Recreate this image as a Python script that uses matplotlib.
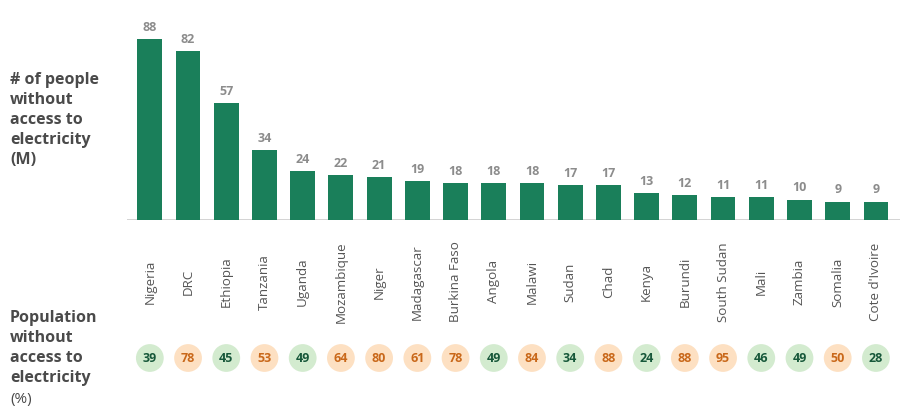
import matplotlib.pyplot as plt
from matplotlib.transforms import blended_transform_factory

paises = ["Nigeria", "DRC", "Ethiopia", "Tanzania", "Uganda", "Mozambique", "Niger",
          "Madagascar", "Burkina Faso", "Angola", "Malawi", "Sudan", "Chad", "Kenya",
          "Burundi", "South Sudan", "Mali", "Zambia", "Somalia", "Cote d'Ivoire"]
personas_m = [88, 82, 57, 34, 24, 22, 21, 19, 18, 18, 18, 17, 17, 13, 12, 11, 11, 10, 9, 9]
poblacion_pct = [39, 78, 45, 53, 49, 64, 80, 61, 78, 49, 84, 34, 88, 24, 88, 95, 46, 49, 50, 28]

VERDE = "#1a7f5a"
GRIS_TXT = "#4a4a4a"

plt.rcParams['font.family'] = ['Open Sans', 'DejaVu Sans']

fig = plt.figure(figsize=(9, 4.2), dpi=100)

# barras
ax = fig.add_axes([0.141, 0.476, 0.859, 0.524])
x = list(range(len(paises)))
bars = ax.bar(x, personas_m, width=0.65, color=VERDE)
for b, v in zip(bars, personas_m):
    ax.text(b.get_x() + b.get_width() / 2, v + 2.5, str(v), ha='center', va='bottom',
            fontsize=9, fontweight='bold', color='#8c8c8c')
ax.set_xlim(-0.6, 19.63)
ax.set_ylim(0, 107)
ax.axhline(0, color='#cccccc', lw=1.2, zorder=0)
ax.axis('off')

# nombres de paises
tr = blended_transform_factory(ax.transData, fig.transFigure)
for xi, p in zip(x, paises):
    ax.text(xi, 0.329, p, transform=tr, rotation=90, ha='center', va='center',
            fontsize=9.6, color='#555555', clip_on=False)

# circulos con porcentajes
ax2 = fig.add_axes([0.141, 0.0, 0.859, 0.3])
ax2.set_xlim(-0.6, 19.63)
ax2.set_ylim(0, 1)
ax2.axis('off')
yc = 62 / 126
for xi, v in zip(x, poblacion_pct):
    if v < 50:
        fondo, txt = "#d3ebcf", "#17583a"
    else:
        fondo, txt = "#fde0c2", "#c9681a"
    ax2.scatter([xi], [yc], s=400, color=fondo, edgecolors='none')
    ax2.text(xi, yc, str(v), ha='center', va='center', fontsize=9,
             fontweight='bold', color=txt)

# textos de la izquierda
for i, linea in enumerate(["# of people", "without", "access to", "electricity"]):
    fig.text(0.011, 1 - (80 + 20 * i) / 420, linea, ha='left', va='center',
             fontsize=11.5, fontweight='bold', color=GRIS_TXT)
fig.text(0.011, 1 - 160 / 420, "(M)", ha='left', va='center', fontsize=11.5,
         fontweight='bold', color=GRIS_TXT)

for i, linea in enumerate(["Population", "without", "access to", "electricity"]):
    fig.text(0.011, 1 - (318 + 20 * i) / 420, linea, ha='left', va='center',
             fontsize=11.5, fontweight='bold', color=GRIS_TXT)
fig.text(0.011, 1 - 400 / 420, "(%)", ha='left', va='center', fontsize=11,
         color=GRIS_TXT)

fig.savefig("out.png", dpi=100)
